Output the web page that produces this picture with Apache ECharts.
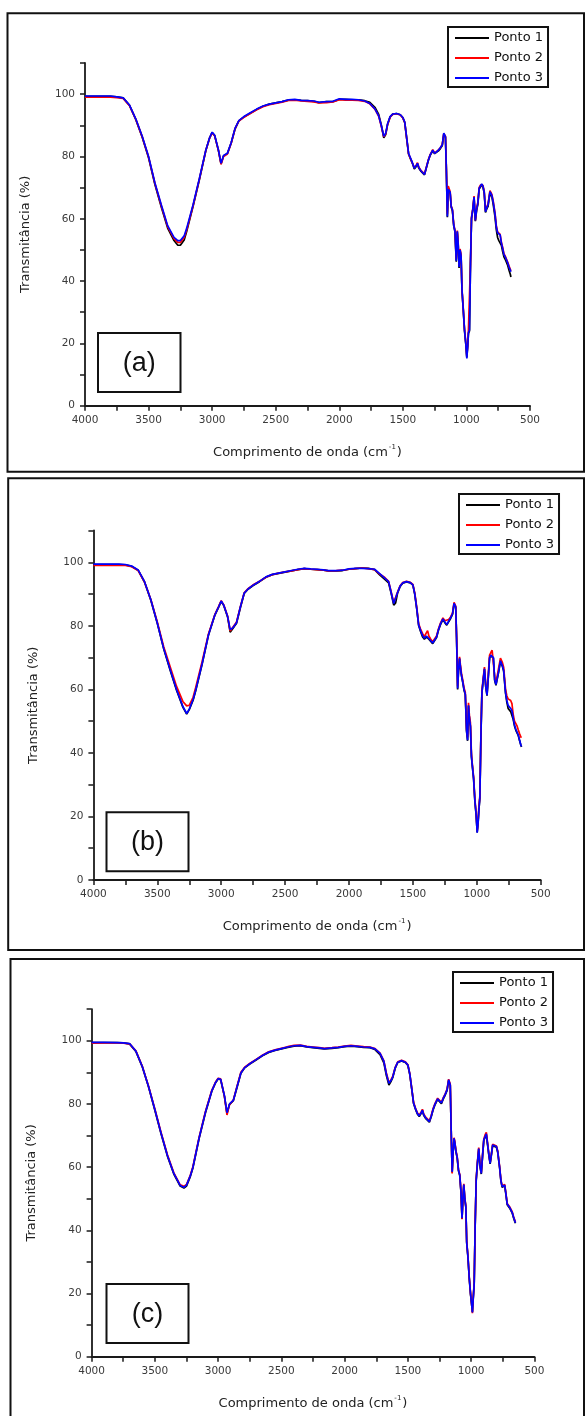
<!DOCTYPE html>
<html>
<head>
<meta charset="utf-8">
<script src="https://cdn.jsdelivr.net/npm/echarts@6/dist/echarts.min.js"></script>
<style>
  html, body { margin: 0; padding: 0; background: #ffffff; }
  #chart { width: 586px; height: 1416px; }
</style>
</head>
<body>
<div id="chart"></div>
<script>
// FTIR spectra, three sampling points per sample (a), (b), (c)
// Wavenumber grid (cm-1), shared by every spectrum
const wavenumbers = [
  4000, 3900, 3800, 3750, 3700, 3650, 3600, 3550, 3500, 3450,
  3400, 3350, 3300, 3270, 3250, 3220, 3200, 3150, 3100, 3050,
  3020, 3000, 2980, 2950, 2930, 2910, 2880, 2850, 2820, 2790,
  2750, 2700, 2650, 2600, 2550, 2500, 2450, 2400, 2350, 2300,
  2250, 2200, 2160, 2100, 2050, 2000, 1950, 1900, 1850, 1800,
  1760, 1720, 1690, 1670, 1650, 1635, 1620, 1600, 1580, 1550,
  1520, 1500, 1485, 1470, 1455, 1440, 1425, 1410, 1395, 1385,
  1375, 1360, 1345, 1330, 1315, 1300, 1285, 1265, 1250, 1235,
  1220, 1205, 1190, 1178, 1165, 1158, 1150, 1143, 1135, 1128,
  1120, 1110, 1100, 1090, 1080, 1072, 1065, 1058, 1050, 1042,
  1035, 1025, 1015, 1005, 997, 990, 984, 976, 968, 960,
  950, 940, 930, 920, 910, 900, 890, 880, 870, 860,
  850, 840, 830, 815, 800, 790, 775, 765, 755, 745,
  735, 725, 715, 705, 695, 685, 675, 665, 655, 650
];

// Transmittance (%) - sample (a)
const pontoA1 = [
  99.3, 99.3, 99.3, 99.1, 98.8, 96.4, 91.8, 86.2, 79.6, 71.0,
  63.8, 57.0, 53.0, 51.5, 51.5, 53.2, 56.0, 64.0, 72.6, 81.8,
  85.9, 87.7, 86.7, 81.8, 77.6, 80.2, 81.0, 84.3, 88.8, 91.4,
  92.7, 93.9, 95.1, 96.1, 96.8, 97.2, 97.6, 98.1, 98.2, 98.0,
  97.9, 97.7, 97.3, 97.6, 97.6, 98.3, 98.3, 98.2, 98.2, 97.9,
  97.4, 95.8, 93.5, 90.2, 86.0, 87.0, 90.3, 92.7, 93.6, 93.8,
  93.4, 92.4, 90.8, 85.8, 80.8, 79.2, 77.8, 76.0, 76.8, 77.6,
  76.3, 75.4, 74.9, 74.1, 76.4, 78.6, 80.4, 81.8, 80.9, 80.4,
  81.8, 82.5, 83.5, 87.2, 86.2, 75.8, 60.5, 69.2, 69.8, 68.2,
  63.8, 62.5, 57.8, 55.8, 46.2, 55.8, 51.8, 44.2, 49.8, 47.8,
  37.0, 30.8, 24.0, 19.8, 15.5, 19.2, 23.2, 24.0, 45.5, 60.0,
  62.8, 66.8, 59.2, 62.6, 64.6, 69.5, 70.2, 71.0, 70.2, 68.2,
  62.0, 63.2, 64.0, 68.2, 67.0, 64.8, 60.5, 56.5, 54.0, 53.0,
  53.0, 51.5, 49.5, 47.8, 47.0, 46.5, 45.0, 43.5, 42.2, 41.3
];
const pontoA2 = [
  99.0, 99.0, 99.0, 98.9, 98.6, 96.3, 91.9, 86.3, 79.8, 71.3,
  64.2, 57.5, 53.6, 52.4, 52.4, 54.0, 56.5, 64.2, 72.8, 81.9,
  85.9, 87.6, 86.6, 81.9, 77.5, 80.0, 80.8, 84.3, 88.9, 91.4,
  92.6, 93.8, 95.0, 96.0, 96.6, 97.0, 97.4, 98.0, 98.1, 97.8,
  97.7, 97.5, 97.2, 97.3, 97.5, 98.2, 98.1, 98.1, 98.0, 97.7,
  96.9, 95.2, 92.9, 89.8, 86.3, 87.3, 90.3, 92.6, 93.5, 93.7,
  93.3, 92.4, 90.9, 85.8, 80.8, 79.4, 77.9, 76.4, 77.2, 78.0,
  76.6, 75.6, 75.1, 74.4, 76.6, 78.9, 80.6, 82.2, 81.1, 80.6,
  82.1, 82.8, 83.9, 87.3, 86.5, 76.5, 61.5, 70.5, 70.2, 68.7,
  64.2, 63.0, 58.3, 56.3, 47.0, 56.2, 52.3, 45.0, 50.3, 48.3,
  37.5, 31.3, 24.6, 20.3, 16.0, 19.5, 24.5, 25.0, 46.0, 60.5,
  63.2, 67.3, 59.5, 63.3, 65.3, 70.0, 70.8, 71.4, 70.7, 68.8,
  62.6, 63.8, 64.8, 69.0, 67.8, 65.8, 61.8, 57.8, 55.8, 55.5,
  55.0, 52.5, 50.8, 48.8, 48.0, 47.5, 46.0, 44.8, 43.8, 43.3
];
const pontoA3 = [
  99.4, 99.4, 99.4, 99.1, 98.8, 96.5, 92.0, 86.5, 80.0, 71.5,
  64.5, 57.8, 54.0, 53.0, 53.0, 54.5, 57.0, 64.5, 73.0, 82.0,
  86.0, 87.8, 86.8, 82.0, 77.8, 80.3, 81.0, 84.5, 89.0, 91.5,
  92.8, 94.0, 95.2, 96.2, 96.8, 97.2, 97.6, 98.2, 98.3, 98.0,
  97.9, 97.8, 97.4, 97.6, 97.7, 98.5, 98.3, 98.3, 98.2, 97.8,
  97.0, 95.3, 93.0, 90.0, 86.5, 87.5, 90.5, 92.8, 93.6, 93.8,
  93.4, 92.5, 91.0, 86.0, 81.0, 79.5, 78.0, 76.2, 77.0, 77.8,
  76.5, 75.5, 75.0, 74.2, 76.5, 78.8, 80.5, 82.0, 81.0, 80.5,
  82.0, 82.6, 83.7, 87.5, 86.4, 76.0, 60.7, 69.5, 70.0, 68.5,
  64.0, 62.8, 58.0, 56.0, 46.5, 56.0, 52.0, 44.5, 50.0, 48.0,
  37.2, 31.0, 24.3, 20.0, 15.2, 19.0, 23.5, 24.3, 45.7, 60.2,
  63.0, 67.0, 59.5, 63.0, 65.0, 69.8, 70.5, 71.2, 70.5, 68.5,
  62.3, 63.5, 64.5, 68.7, 67.5, 65.5, 61.5, 57.5, 55.5, 55.2,
  54.8, 52.2, 50.5, 48.5, 47.8, 47.3, 45.8, 44.5, 43.5, 43.0
];

// Transmittance (%) - sample (b)
const pontoB1 = [
  99.3, 99.3, 99.3, 99.2, 98.7, 97.5, 93.8, 88.0, 80.8, 72.8,
  66.1, 59.8, 54.4, 52.2, 53.6, 56.6, 59.5, 67.8, 77.0, 83.3,
  85.9, 87.7, 86.4, 82.8, 78.0, 79.1, 80.8, 85.7, 90.2, 91.5,
  92.7, 93.9, 95.3, 96.1, 96.5, 96.9, 97.3, 97.7, 98.0, 97.8,
  97.7, 97.5, 97.3, 97.3, 97.4, 97.8, 98.0, 98.2, 98.1, 97.7,
  96.0, 94.6, 93.5, 90.2, 86.5, 87.2, 90.3, 92.4, 93.4, 93.8,
  93.5, 92.8, 89.8, 85.3, 80.1, 78.2, 76.6, 75.8, 76.5, 76.8,
  75.8, 75.1, 74.4, 74.4, 76.3, 78.6, 80.3, 82.0, 81.0, 80.2,
  81.3, 82.3, 83.6, 86.9, 85.8, 75.8, 60.0, 65.8, 69.6, 66.8,
  64.3, 62.2, 59.8, 58.3, 46.8, 43.8, 54.8, 50.8, 48.3, 38.8,
  35.8, 31.8, 24.8, 20.3, 15.0, 17.8, 21.8, 25.8, 44.8, 58.8,
  62.8, 66.3, 60.8, 58.0, 63.8, 69.8, 70.6, 71.1, 69.8, 62.8,
  61.3, 63.3, 65.3, 68.8, 67.3, 65.8, 58.8, 56.0, 54.0, 53.5,
  53.0, 52.5, 50.5, 48.5, 47.2, 46.3, 45.4, 43.8, 42.4, 41.9
];
const pontoB2 = [
  99.0, 99.0, 99.0, 99.0, 98.6, 97.4, 93.8, 88.2, 81.2, 73.4,
  67.2, 61.0, 56.2, 54.8, 55.0, 57.5, 60.5, 68.6, 77.4, 83.5,
  86.1, 87.9, 86.6, 83.1, 78.4, 79.5, 81.2, 86.0, 90.4, 91.7,
  92.9, 94.0, 95.3, 96.1, 96.6, 97.0, 97.3, 97.7, 98.0, 97.8,
  97.7, 97.5, 97.3, 97.4, 97.5, 97.8, 98.0, 98.2, 98.0, 97.7,
  96.3, 95.2, 94.0, 90.7, 87.3, 87.8, 90.6, 92.6, 93.6, 94.0,
  93.7, 93.0, 90.3, 85.8, 80.6, 79.0, 77.6, 76.6, 77.8, 78.5,
  76.8, 75.8, 75.0, 74.9, 76.8, 79.0, 80.8, 82.5, 81.6, 81.0,
  82.0, 82.8, 84.0, 87.4, 86.2, 76.5, 61.0, 67.0, 70.2, 67.6,
  65.0, 63.0, 60.5, 59.0, 47.5, 45.0, 55.8, 51.8, 49.5, 39.8,
  36.5, 32.5, 25.5, 21.0, 15.5, 18.5, 23.0, 26.5, 45.5, 59.5,
  63.5, 67.0, 61.5, 58.8, 64.8, 70.8, 71.6, 72.3, 72.8, 64.0,
  62.0, 64.2, 66.5, 69.8, 68.5, 67.0, 60.0, 58.0, 57.0, 57.0,
  56.5, 55.5, 52.0, 50.0, 49.5, 48.5, 47.2, 46.0, 45.0, 44.8
];
const pontoB3 = [
  99.4, 99.4, 99.4, 99.3, 98.8, 97.6, 93.9, 88.1, 80.9, 72.9,
  66.3, 60.0, 54.6, 52.4, 53.8, 56.8, 59.7, 68.0, 77.1, 83.4,
  86.0, 87.8, 86.5, 83.0, 78.8, 79.3, 81.0, 85.9, 90.3, 91.6,
  92.8, 94.0, 95.4, 96.2, 96.6, 97.0, 97.4, 97.8, 98.1, 97.9,
  97.8, 97.6, 97.4, 97.4, 97.5, 97.9, 98.1, 98.1, 98.0, 97.8,
  96.4, 95.0, 93.9, 90.5, 87.0, 87.5, 90.5, 92.5, 93.5, 93.9,
  93.6, 92.9, 90.0, 85.5, 80.3, 78.5, 77.0, 76.1, 76.8, 77.1,
  76.0, 75.3, 74.6, 74.6, 76.5, 78.8, 80.5, 82.2, 81.2, 80.4,
  81.5, 82.5, 83.8, 87.1, 86.0, 76.1, 60.3, 66.0, 69.8, 67.0,
  64.5, 62.4, 60.0, 58.5, 47.0, 44.0, 55.0, 51.0, 48.5, 39.0,
  36.0, 32.0, 25.0, 20.5, 14.9, 18.0, 22.0, 26.0, 45.0, 59.0,
  63.0, 66.5, 61.0, 58.2, 64.0, 70.0, 70.8, 71.3, 70.0, 63.0,
  61.5, 63.5, 65.5, 69.0, 67.5, 66.0, 59.0, 56.5, 55.0, 54.5,
  54.0, 53.3, 51.0, 48.8, 47.5, 46.5, 45.6, 44.0, 42.5, 42.0
];

// Transmittance (%) - sample (c)
const pontoC1 = [
  99.4, 99.4, 99.4, 99.3, 99.0, 96.6, 91.8, 85.4, 78.0, 70.4,
  63.4, 57.8, 54.0, 53.4, 54.0, 57.0, 59.6, 69.1, 77.2, 84.0,
  86.7, 87.9, 87.7, 82.4, 77.0, 79.8, 81.0, 85.3, 89.7, 91.4,
  92.6, 93.9, 95.2, 96.3, 96.9, 97.4, 97.9, 98.3, 98.4, 98.0,
  97.8, 97.6, 97.4, 97.6, 97.8, 98.1, 98.3, 98.1, 97.9, 97.8,
  97.2, 95.6, 93.0, 89.0, 86.0, 87.0, 88.3, 91.3, 93.1, 93.6,
  93.1, 92.2, 89.3, 84.8, 80.1, 78.3, 76.8, 76.0, 77.0, 77.8,
  76.4, 75.4, 74.8, 74.2, 76.0, 78.2, 79.8, 81.4, 80.8, 80.1,
  81.6, 82.8, 84.3, 87.4, 85.8, 71.8, 58.3, 64.3, 69.0, 67.3,
  64.8, 62.8, 58.8, 57.3, 51.8, 43.6, 49.8, 54.3, 49.8, 47.3,
  36.0, 31.3, 24.8, 19.8, 16.8, 14.2, 18.2, 23.0, 41.8, 55.8,
  61.3, 65.7, 60.3, 57.8, 63.3, 68.4, 69.4, 70.3, 70.0, 63.8,
  61.0, 63.8, 66.8, 67.3, 66.3, 64.7, 59.8, 55.7, 53.6, 54.1,
  54.1, 51.3, 48.1, 47.6, 47.0, 46.2, 45.4, 44.0, 42.8, 42.2
];
const pontoC2 = [
  99.2, 99.3, 99.3, 99.2, 99.0, 96.8, 92.0, 85.6, 78.4, 70.8,
  63.8, 58.2, 54.4, 53.9, 54.5, 57.4, 60.0, 69.5, 77.6, 84.3,
  86.9, 88.1, 87.9, 82.4, 76.5, 79.8, 81.2, 85.7, 90.0, 91.6,
  92.8, 94.1, 95.4, 96.5, 97.1, 97.6, 98.1, 98.5, 98.6, 98.2,
  98.0, 97.8, 97.6, 97.8, 98.0, 98.3, 98.5, 98.3, 98.1, 98.0,
  97.5, 96.1, 93.6, 89.8, 86.8, 87.5, 88.7, 91.6, 93.3, 93.8,
  93.3, 92.4, 89.6, 85.1, 80.5, 78.7, 77.2, 76.4, 77.5, 78.3,
  76.8, 75.8, 75.2, 74.6, 76.4, 78.6, 80.2, 81.8, 81.2, 80.5,
  82.0, 83.2, 84.7, 87.8, 86.2, 72.3, 58.0, 64.7, 69.3, 67.7,
  65.2, 63.2, 59.2, 57.7, 52.2, 43.5, 50.2, 54.7, 50.2, 47.7,
  36.4, 31.7, 25.2, 20.2, 17.2, 13.8, 18.5, 23.4, 42.3, 56.3,
  61.8, 66.2, 60.8, 58.2, 63.8, 68.8, 70.2, 71.0, 70.5, 64.2,
  61.4, 64.2, 67.2, 67.8, 66.7, 65.1, 60.2, 56.1, 54.0, 54.5,
  54.5, 51.7, 48.5, 48.0, 47.4, 46.6, 45.8, 44.4, 43.2, 42.6
];
const pontoC3 = [
  99.5, 99.5, 99.4, 99.3, 99.1, 96.7, 91.9, 85.5, 78.2, 70.6,
  63.6, 58.0, 54.2, 53.6, 54.3, 57.2, 59.8, 69.3, 77.4, 84.1,
  86.8, 88.0, 87.8, 82.6, 77.2, 80.0, 81.1, 85.5, 89.8, 91.5,
  92.7, 94.0, 95.3, 96.4, 97.0, 97.5, 98.0, 98.4, 98.5, 98.1,
  97.9, 97.7, 97.5, 97.7, 97.9, 98.2, 98.4, 98.2, 98.0, 97.9,
  97.4, 96.0, 93.5, 89.5, 86.5, 87.3, 88.5, 91.5, 93.2, 93.7,
  93.2, 92.3, 89.5, 85.0, 80.3, 78.5, 77.0, 76.2, 77.2, 78.0,
  76.6, 75.6, 75.0, 74.4, 76.2, 78.4, 80.0, 81.6, 81.0, 80.3,
  81.8, 83.0, 84.5, 87.6, 86.0, 72.0, 58.5, 64.5, 69.1, 67.5,
  65.0, 63.0, 59.0, 57.5, 52.0, 43.8, 50.0, 54.5, 50.0, 47.5,
  36.2, 31.5, 25.0, 20.0, 17.0, 14.0, 18.0, 22.8, 42.0, 56.0,
  61.5, 65.9, 60.5, 58.0, 63.5, 68.6, 69.6, 70.5, 70.2, 64.0,
  61.2, 64.0, 67.0, 67.5, 66.5, 64.9, 60.0, 55.9, 53.8, 54.3,
  54.3, 51.5, 48.3, 47.8, 47.2, 46.4, 45.6, 44.2, 43.0, 42.4
];

const seriesNames = ['Ponto 1', 'Ponto 2', 'Ponto 3'];
const seriesColors = ['#000000', '#ff0000', '#0000ff'];
const panelLabels = ['(a)', '(b)', '(c)'];
const panelSpectra = [
  [pontoA1, pontoA2, pontoA3],
  [pontoB1, pontoB2, pontoB3],
  [pontoC1, pontoC2, pontoC3]
];
const xAxisTitle = '{t|Comprimento de onda (cm}{s|-1}{t|)}';
const yAxisTitle = 'Transmitância (%)';

// Layout of each framed panel
const panels = [
  { grid: { left: 85, top: 63, width: 445, height: 342.7 },
    legend: { left: 448, top: 27 },
    frame: { x: 7.5, y: 13.3, width: 576.5, height: 458.4 },
    tag: { x: 98, y: 333, width: 82.5, height: 59 } },
  { grid: { left: 93.4, top: 530.5, width: 447.3, height: 349.5 },
    legend: { left: 459, top: 494 },
    frame: { x: 8.2, y: 478.3, width: 575.8, height: 471.7 },
    tag: { x: 106.5, y: 812.3, width: 82, height: 59 } },
  { grid: { left: 91.6, top: 1009.1, width: 442.8, height: 347.6 },
    legend: { left: 453, top: 972 },
    frame: { x: 10.5, y: 959, width: 573.5, height: 480 },
    tag: { x: 106.5, y: 1284, width: 82, height: 59 } }
];

const FONT = 'DejaVu Sans';
const AXIS_COLOR = '#1a1a1a';

const chart = echarts.init(document.getElementById('chart'), null, { renderer: 'canvas' });

const grids = [], xAxes = [], yAxes = [], legends = [], series = [], graphics = [];

panels.forEach((p, pi) => {
  grids.push(Object.assign({ containLabel: false }, p.grid));

  xAxes.push({
    gridIndex: pi, type: 'value', inverse: true,
    min: 500, max: 4000, interval: 250,
    axisLine: { onZero: false, lineStyle: { color: AXIS_COLOR, width: 1.8 } },
    axisTick: { length: 5, lineStyle: { color: AXIS_COLOR, width: 1.5 } },
    axisLabel: {
      margin: 9, fontFamily: FONT, fontSize: 10.5, color: '#3a3a3a',
      formatter: v => (v % 500 === 0 ? String(v) : '')
    },
    splitLine: { show: false },
    name: xAxisTitle, nameLocation: 'middle', nameGap: 38,
    nameTextStyle: {
      fontFamily: FONT, fontSize: 13, color: '#222',
      rich: {
        t: { fontFamily: FONT, fontSize: 13, color: '#222', lineHeight: 18 },
        s: { fontFamily: FONT, fontSize: 7, color: '#222', lineHeight: 18, verticalAlign: 'top', padding: [0, 1, 0, 1] }
      }
    }
  });

  yAxes.push({
    gridIndex: pi, type: 'value',
    min: 0, max: 110, interval: 10,
    axisLine: { onZero: false, lineStyle: { color: AXIS_COLOR, width: 1.8 } },
    axisTick: { length: 5, lineStyle: { color: AXIS_COLOR, width: 1.5 } },
    axisLabel: {
      margin: 10, fontFamily: FONT, fontSize: 10.5, color: '#3a3a3a',
      formatter: v => (v % 20 === 0 && v <= 100 ? String(v) : '')
    },
    splitLine: { show: false },
    name: yAxisTitle, nameLocation: 'middle', nameGap: 53,
    nameTextStyle: { fontFamily: FONT, fontSize: 13, color: '#222' }
  });

  legends.push({
    left: p.legend.left, top: p.legend.top,
    orient: 'vertical', data: seriesNames,
    icon: 'rect', itemWidth: 34, itemHeight: 2, itemGap: 6,
    padding: [4, 5, 2, 7],
    borderColor: '#111', borderWidth: 2, backgroundColor: '#fff',
    selectedMode: false,
    textStyle: { fontFamily: FONT, fontSize: 13, color: '#111', lineHeight: 14 }
  });

  panelSpectra[pi].forEach((values, k) => {
    series.push({
      type: 'line', name: seriesNames[k],
      xAxisIndex: pi, yAxisIndex: pi,
      data: wavenumbers.map((w, i) => [w, values[i]]),
      symbol: 'none', showSymbol: false,
      lineStyle: { color: seriesColors[k], width: 1.7 },
      itemStyle: { color: seriesColors[k] },
      z: 2 + k
    });
  });

  graphics.push({
    type: 'rect', silent: true, z: 10,
    shape: p.frame,
    style: { fill: 'none', stroke: '#111', lineWidth: 2 }
  });
  graphics.push({
    type: 'rect', silent: true, z: 10,
    shape: p.tag,
    style: { fill: '#fff', stroke: '#111', lineWidth: 2 }
  });
  graphics.push({
    type: 'text', silent: true, z: 11,
    x: p.tag.x + p.tag.width / 2, y: p.tag.y + p.tag.height / 2 + 1,
    style: {
      text: panelLabels[pi], fill: '#111',
      font: '27px "Liberation Sans"',
      align: 'center', verticalAlign: 'middle',
      textAlign: 'center', textVerticalAlign: 'middle'
    }
  });
});

chart.setOption({
  animation: false,
  backgroundColor: '#ffffff',
  textStyle: { fontFamily: FONT },
  grid: grids,
  xAxis: xAxes,
  yAxis: yAxes,
  legend: legends,
  series: series,
  graphic: graphics
});
</script>
</body>
</html>
